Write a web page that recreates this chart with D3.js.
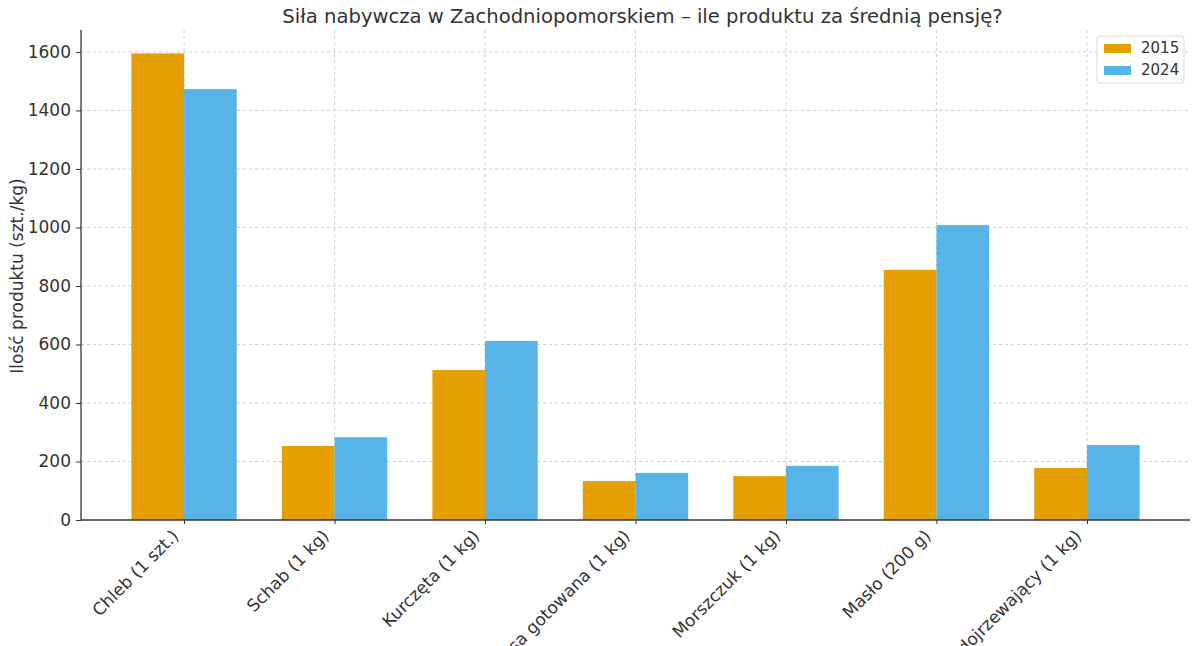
<!DOCTYPE html>
<html><head><meta charset="utf-8">
<script src="https://cdn.jsdelivr.net/npm/d3@7"></script>
<style>
body{margin:0;background:#fff;}
text{font-family:"DejaVu Sans",sans-serif;}
</style></head>
<body><svg id="c" width="1200" height="646"></svg>
<script>
const categories = ["Chleb (1 szt.)","Schab (1 kg)","Kurczęta (1 kg)","Kiełbasa gotowana (1 kg)","Morszczuk (1 kg)","Masło (200 g)","Ser dojrzewający (1 kg)"];
const seriesNames = ["2015","2024"];
const values2015 = [1595, 253, 513, 133, 150, 855, 178];
const values2024 = [1473, 283, 612, 161, 185, 1008, 256];
const yTicks = [0,200,400,600,800,1000,1200,1400,1600];
const colors = ["#E69F00","#56B4E9"];
const title = "Siła nabywcza w Zachodniopomorskiem – ile produktu za średnią pensję?";
const yLabel = "Ilość produktu (szt./kg)";

const svg = d3.select("#c");
const L=81, R=1190, T=30, B=520;
const textCol="#333";
const barW=0.35;
const n=categories.length;
const x = d3.scaleLinear().domain([-0.685, n-1+0.685]).range([L,R]);
const y = d3.scaleLinear().domain([0, 1675]).range([B,T]);

// grid
const g = svg.append("g");
g.selectAll(".hg").data(yTicks.filter(d=>d>0)).join("line")
 .attr("x1",L).attr("x2",R).attr("y1",d=>y(d)).attr("y2",d=>y(d))
 .attr("stroke","#cfcfcf").attr("stroke-dasharray","3,3").attr("stroke-width",1);
g.selectAll(".vg").data(d3.range(n)).join("line")
 .attr("x1",d=>x(d)).attr("x2",d=>x(d)).attr("y1",T).attr("y2",B)
 .attr("stroke","#cfcfcf").attr("stroke-dasharray","3,3").attr("stroke-width",1);

// bars
const series=[values2015, values2024];
series.forEach((vals,si)=>{
  svg.append("g").selectAll("rect").data(vals).join("rect")
   .attr("x",(d,i)=>x(i + (si===0?-barW:0)))
   .attr("width",(d,i)=>x(i+barW)-x(i))
   .attr("y",d=>y(d)).attr("height",d=>B-y(d))
   .attr("fill",colors[si]);
});

// axes
const yAxis = d3.axisLeft(y).tickValues(yTicks).tickSize(5).tickPadding(5).tickFormat(d3.format("d"));
const ya = svg.append("g").attr("transform",`translate(${L},0)`).call(yAxis);
ya.select(".domain").attr("stroke",textCol).attr("stroke-width",1.3).attr("d",`M0,${T}V${B}`);
ya.selectAll(".tick line").attr("stroke",textCol);
ya.selectAll(".tick text").attr("fill",textCol).style("font-size","17px").style("font-family","DejaVu Sans");

const xAxis = d3.axisBottom(x).tickValues(d3.range(n)).tickSize(4).tickFormat(i=>categories[i]);
const xa = svg.append("g").attr("transform",`translate(0,${B})`).call(xAxis);
xa.select(".domain").attr("stroke",textCol).attr("stroke-width",1.3).attr("d",`M${L},0H${R}`);
xa.selectAll(".tick line").attr("stroke",textCol);
xa.selectAll(".tick text").attr("fill",textCol).style("font-size","17px").style("font-family","DejaVu Sans")
  .attr("text-anchor","end").attr("dy",null).attr("y",0)
  .attr("transform","translate(-5,17) rotate(-45)");

// title
svg.append("text").attr("x",(L+R)/2+7).attr("y",23).attr("text-anchor","middle")
 .attr("fill",textCol).style("font-size","19.6px").text(title);
// y label
svg.append("text").attr("transform",`translate(23,${(T+B)/2+1}) rotate(-90)`).attr("text-anchor","middle")
 .attr("fill",textCol).style("font-size","17px").text(yLabel);

// legend
const lg = svg.append("g").attr("transform","translate(1097,36)");
lg.append("rect").attr("width",87).attr("height",47).attr("rx",3).attr("fill","#fff").attr("fill-opacity",0.85)
 .attr("stroke","#d8d8d8");
seriesNames.forEach((s,i)=>{
  lg.append("rect").attr("x",7).attr("y",8+i*22).attr("width",27).attr("height",9).attr("fill",colors[i]);
  lg.append("text").attr("x",44).attr("y",17+i*22).attr("fill",textCol).style("font-size","15px").text(s);
});
</script></body></html>
